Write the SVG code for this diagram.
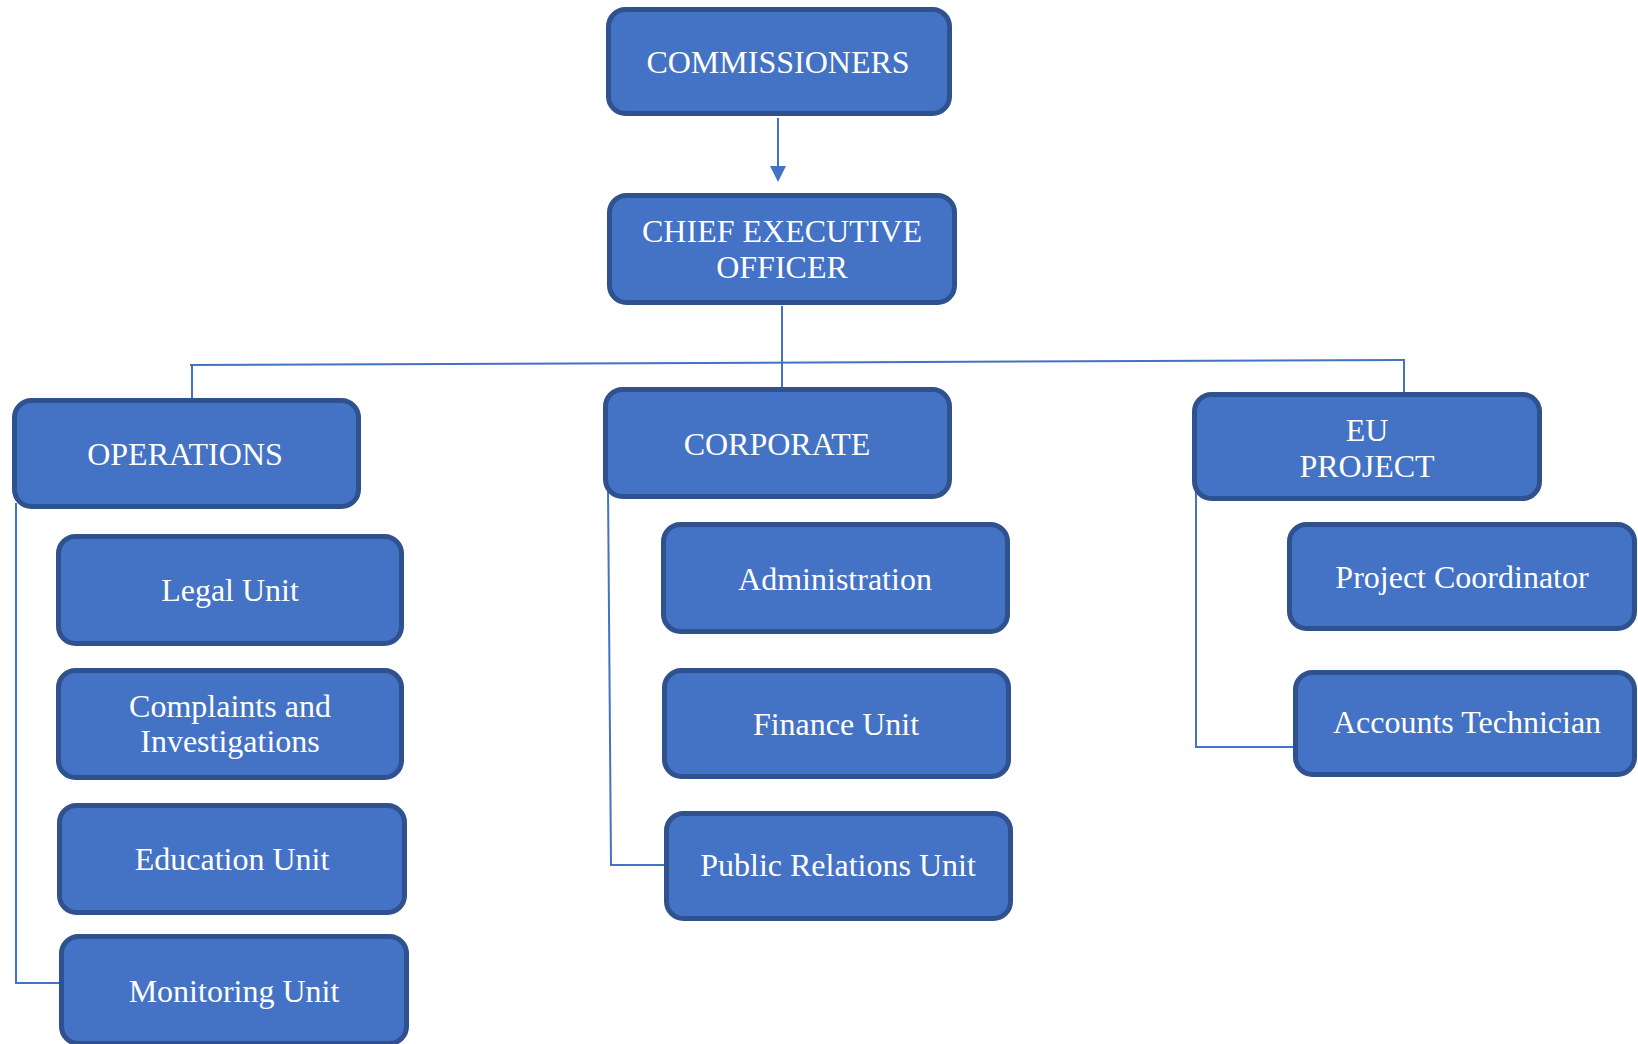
<svg xmlns="http://www.w3.org/2000/svg" width="1638" height="1044" viewBox="0 0 1638 1044">
<defs>
<style>
.box{fill:#4472C4;stroke:#2F528F;stroke-width:5}
.lbl{font-family:"Liberation Serif","Times New Roman",serif;font-size:32px;fill:#FFFFFF;text-anchor:middle}
.con{fill:none;stroke:#4472C4;stroke-width:2}
</style>
</defs>
<rect width="1638" height="1044" fill="#FFFFFF"/>
<g id="connectors">
<line class="con" x1="778" y1="118" x2="778" y2="168"/>
<polygon points="770,166 786,166 778,182" fill="#4472C4"/>
<line class="con" x1="782" y1="306" x2="782" y2="388"/>
<line class="con" x1="190" y1="365" x2="1405" y2="360"/>
<line class="con" x1="192" y1="365" x2="192" y2="399"/>
<line class="con" x1="1404" y1="360" x2="1404" y2="393"/>
<polyline class="con" points="16,503 16,983 73,983"/>
<polyline class="con" points="608,487 611,865 665,865"/>
<polyline class="con" points="1196,487 1196,747 1295,747"/>
</g>
<g id="commissioners"><rect class="box" x="608.5" y="9.5" width="341" height="104" rx="17"/><text class="lbl" x="778" y="73">COMMISSIONERS</text></g>
<g id="ceo"><rect class="box" x="609.5" y="195.5" width="345" height="107" rx="17"/><text class="lbl" x="782" y="242">CHIEF EXECUTIVE</text><text class="lbl" x="782" y="278">OFFICER</text></g>
<g id="operations"><rect class="box" x="14.5" y="400.5" width="344" height="106" rx="17"/><text class="lbl" x="185" y="465">OPERATIONS</text></g>
<g id="corporate"><rect class="box" x="605.5" y="389.5" width="344" height="107" rx="17"/><text class="lbl" x="777" y="455">CORPORATE</text></g>
<g id="eu-project"><rect class="box" x="1194.5" y="394.5" width="345" height="104" rx="17"/><text class="lbl" x="1367" y="441">EU</text><text class="lbl" x="1367" y="477">PROJECT</text></g>
<g id="legal-unit"><rect class="box" x="58.5" y="536.5" width="343" height="107" rx="17"/><text class="lbl" x="230" y="601">Legal Unit</text></g>
<g id="complaints"><rect class="box" x="58.5" y="670.5" width="343" height="107" rx="17"/><text class="lbl" x="230" y="717">Complaints and</text><text class="lbl" x="230" y="752">Investigations</text></g>
<g id="education-unit"><rect class="box" x="59.5" y="805.5" width="345" height="107" rx="17"/><text class="lbl" x="232" y="870">Education Unit</text></g>
<g id="monitoring-unit"><rect class="box" x="61.5" y="936.5" width="345" height="107" rx="17"/><text class="lbl" x="234" y="1002">Monitoring Unit</text></g>
<g id="administration"><rect class="box" x="663.5" y="524.5" width="344" height="107" rx="17"/><text class="lbl" x="835" y="590">Administration</text></g>
<g id="finance-unit"><rect class="box" x="664.5" y="670.5" width="344" height="106" rx="17"/><text class="lbl" x="836" y="735">Finance Unit</text></g>
<g id="public-relations-unit"><rect class="box" x="666.5" y="813.5" width="344" height="105" rx="17"/><text class="lbl" x="838" y="876">Public Relations Unit</text></g>
<g id="project-coordinator"><rect class="box" x="1289.5" y="524.5" width="345" height="104" rx="17"/><text class="lbl" x="1462" y="588">Project Coordinator</text></g>
<g id="accounts-technician"><rect class="box" x="1295.5" y="672.5" width="339" height="102" rx="17"/><text class="lbl" x="1467" y="733">Accounts Technician</text></g>
</svg>
